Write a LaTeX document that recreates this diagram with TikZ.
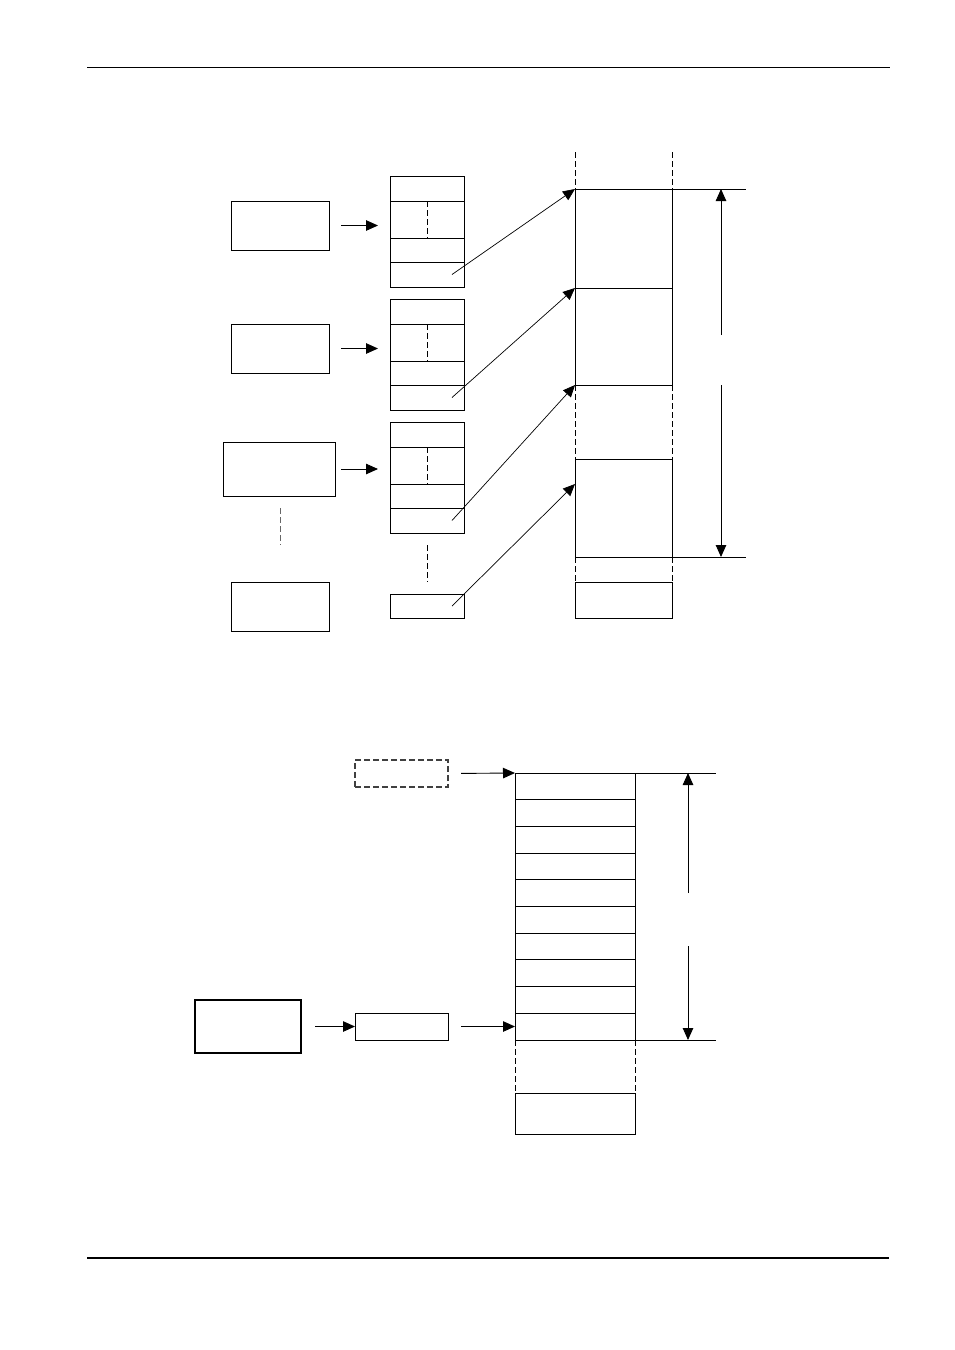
\documentclass[tikz,border=0pt]{standalone}
\usetikzlibrary{arrows.meta}
\tikzset{box/.style={draw, line width=0.9pt, inner sep=0pt, outer sep=0pt},
  cell/.style={box, minimum width=74pt},
  arr/.style={-{Triangle[length=12pt,width=10.5pt]}, line width=0.9pt},
  dsh/.style={dash pattern=on 6pt off 3pt}}

\begin{document}
\begin{tikzpicture}[x=1pt,y=-1pt,line width=0.9pt]
\useasboundingbox (0,0) rectangle (954,1350);
% page rules
\draw (87,67) -- (890,67);
\draw[line width=2.4pt] (87,1258) -- (889,1258);

% upper figure: left boxes
\node[box, minimum width=98pt, minimum height=49pt] (a1) at (280,225.5) {};
\node[box, minimum width=98pt, minimum height=49pt] (a2) at (280,348.5) {};
\node[box, minimum width=112pt, minimum height=54pt] (a3) at (279,469) {};
\node[box, minimum width=98pt, minimum height=49pt] (a4) at (280,606.5) {};
\draw[dsh, black!60] (280,508) -- (280,545);

% descriptor stacks
\foreach \n/\t in {1/176,2/299,3/422}{
  \node[cell, minimum height=25pt] (s\n-a) at (427,\t+12.5) {};
  \node[cell, minimum height=37pt] (s\n-b) at (427,\t+43.5) {};
  \node[cell, minimum height=24pt] (s\n-c) at (427,\t+74) {};
  \node[cell, minimum height=25pt] (s\n-d) at (427,\t+98.5) {};
  \draw[dsh] (s\n-b.north) -- (s\n-b.south);
}
\draw[dsh] (427,545) -- (427,582);
\node[cell, minimum height=24pt] (s4-d) at (427,606) {};

\draw[arr, shorten <=12pt, shorten >=12pt] (a1.east) -- (a1.east -| s1-b.west);
\draw[arr, shorten <=12pt, shorten >=12pt] (a2.east) -- (a2.east -| s2-b.west);
\draw[arr, shorten <=6pt, shorten >=12pt] (a3.east) -- (a3.east -| s3-b.west);

% memory column
\coordinate (m1) at (575,189);
\coordinate (m2) at (575,288);
\coordinate (m3) at (575,385);
\coordinate (m4) at (575,484);
\draw[dsh] (575,152) -- (575,189);
\draw[dsh] (672,152) -- (672,189);
\draw (575,189) -- (575,385) (672,189) -- (672,385);
\draw (m1) -- (746,189) (m2) -- (672,288) (m3) -- (672,385);
\draw[dsh] (575,385) -- (575,459) (672,385) -- (672,459);
\draw (575,459) rectangle (672,557);
\draw (672,557) -- (746,557);
\draw[dsh] (575,557) -- (575,582) (672,557) -- (672,582);
\draw (575,582) rectangle (672,618);

\foreach \n in {1,2,3,4}
  \draw[arr, line width=0.7pt] ([xshift=25pt]s\n-d.center) -- (m\n);

% extent of the region
\coordinate (d1) at (721,335);
\coordinate (d2) at (721,385);
\draw[arr] (d1) -- (721,189);
\draw[arr] (d2) -- (721,557);

% lower figure
\node[box, dsh, draw=black!75, line width=1.4pt, minimum width=93pt, minimum height=27pt] (p0) at (401.5,773.5) {};
\foreach \k in {0,...,9}
  \node[box, minimum width=120pt, minimum height=26.7pt] (q\k) at (575,{786.35+26.7*\k}) {};
\draw[line width=1.6pt] (q2.north west) -- (q2.north east);
\draw[dsh] (515,1040) -- (515,1093) (635,1040) -- (635,1093);
\draw (515,1093) rectangle (635,1134);
\draw (q0.north east) -- (716,773);
\draw (635,1040.5) -- (716,1040.5);

\node[box, line width=2pt, minimum width=106pt, minimum height=53pt] (b1) at (248,1026.5) {};
\node[box, minimum width=93pt, minimum height=27pt] (b2) at (401.5,1026.5) {};
\draw[arr, shorten <=13pt] (p0.east) -- (q0.north west);
\draw[arr, shorten <=14pt] (b1.east) -- (b2.west);
\draw[arr, shorten <=13pt] (b2.east) -- (b2.east -| q9.west);

\coordinate (e1) at (688,893);
\coordinate (e2) at (688,946);
\draw[arr] (e1) -- (688,773);
\draw[arr] (e2) -- (688,1040);
\end{tikzpicture}
\end{document}
